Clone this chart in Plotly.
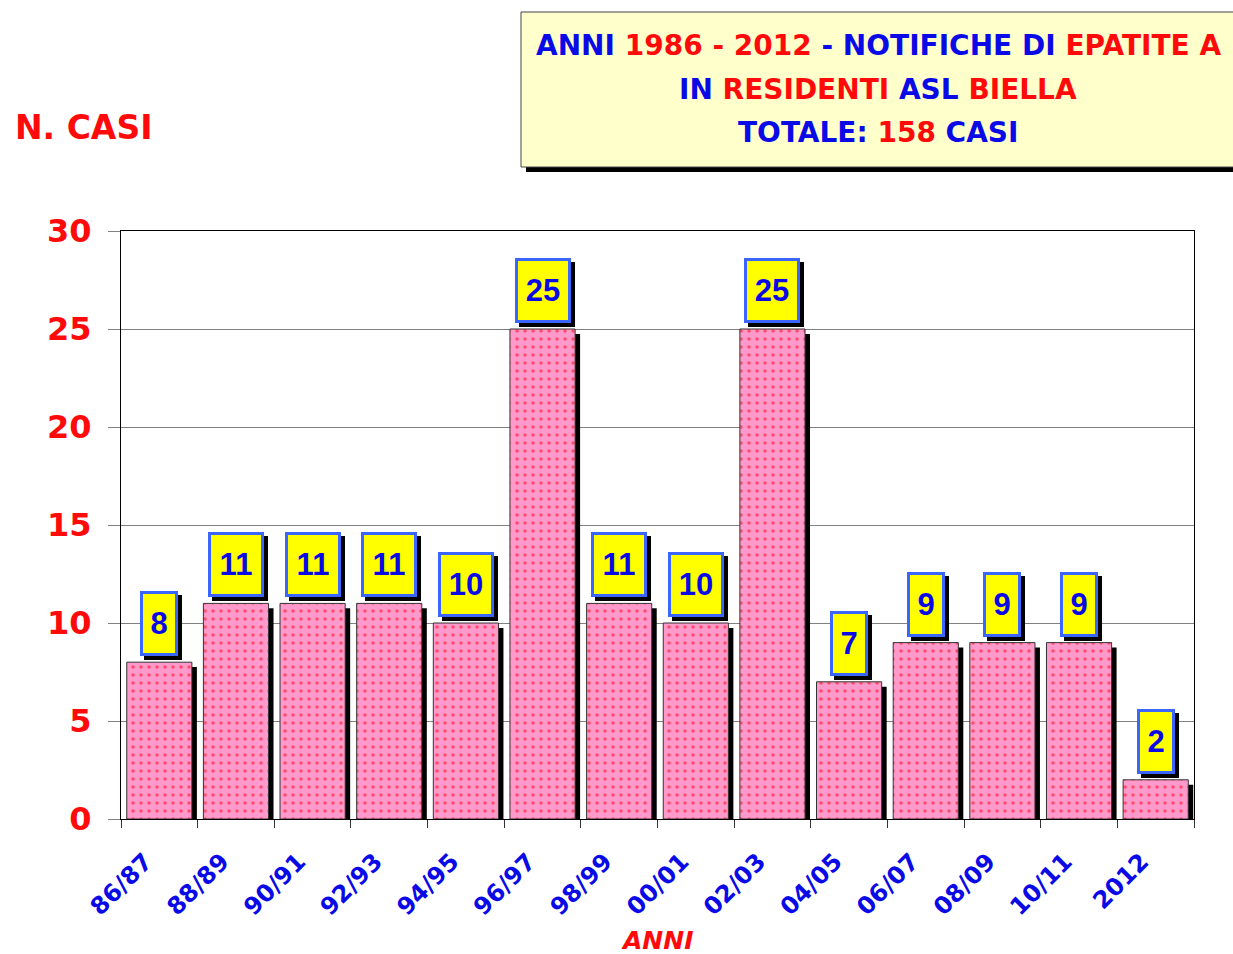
import plotly.graph_objects as go

categories = ["86/87", "88/89", "90/91", "92/93", "94/95", "96/97", "98/99",
              "00/01", "02/03", "04/05", "06/07", "08/09", "10/11", "2012"]
cases = [8, 11, 11, 11, 10, 25, 11, 10, 25, 7, 9, 9, 9, 2]
y_ticks = [0, 5, 10, 15, 20, 25, 30]

BLUE = "#0A0AE6"
RED = "#FF0A0A"
FONT = "DejaVu Sans"

# body margin is removed in post_script so page pixels == figure pixels
W, H = 1233, 954
# plot area in page pixels: x 121..1194, y 231..819
L, T = 121, 231
R = W - 1194
B = H - 819
pw, ph = W - L - R, H - T - B


def px_x(p):
    return (p - L) / pw


def px_y(p):
    return (H - B - p) / ph


fig = go.Figure()

# shadow bars
fig.add_trace(go.Bar(
    x=categories, y=cases, base=-0.25, width=0.85, offset=-0.36,
    marker=dict(color="black", line=dict(width=0)),
    hoverinfo="skip", showlegend=False,
))
# main bars
fig.add_trace(go.Bar(
    x=categories, y=cases, width=0.85, offset=-0.425,
    marker=dict(color="#FF99CC",
                line=dict(color="#333333", width=1),
                pattern=dict(shape=".", fgcolor="#FF0000", bgcolor="#FF99CC",
                             size=8, solidity=0.15)),
    showlegend=False,
))

annotations = []
for i, v in enumerate(cases):
    bw = 18 * len(str(v))
    # shadow of label box
    annotations.append(dict(
        x=i, y=v, xref="x", yref="y", text=" ", showarrow=False,
        yanchor="bottom", xanchor="center", xshift=4, yshift=2,
        font=dict(family="Liberation Sans", size=31, color="black"),
        bgcolor="black", bordercolor="black", borderwidth=3, borderpad=7,
        width=bw, height=45,
    ))
    annotations.append(dict(
        x=i, y=v, xref="x", yref="y", text=f"<b>{v}</b>", showarrow=False,
        yanchor="bottom", xanchor="center", yshift=6,
        font=dict(family="Liberation Sans", size=31, color=BLUE),
        bgcolor="#FFFF00", bordercolor="#3A66FF", borderwidth=3, borderpad=7,
        width=bw, height=45,
    ))


def blue(s):
    return f"<span style='color:{BLUE}'>{s}</span>"


def red(s):
    return f"<span style='color:{RED}'>{s}</span>"


title_lines = [
    blue("ANNI ") + red("1986 - 2012") + blue(" - NOTIFICHE DI ") + red("EPATITE A"),
    blue("IN ") + red("RESIDENTI") + blue(" ASL ") + red("BIELLA"),
    blue("TOTALE: ") + red("158") + blue(" CASI"),
]
for line, yc in zip(title_lines, [45, 89, 133]):
    annotations.append(dict(
        x=px_x(878), y=px_y(yc), xref="paper", yref="paper", text=f"<b>{line}</b>",
        showarrow=False, xanchor="center", yanchor="middle",
        font=dict(family=FONT, size=28),
    ))

annotations.append(dict(
    x=px_x(13), y=px_y(127), xref="paper", yref="paper", text="<b>N. CASI</b>",
    showarrow=False, xanchor="left", yanchor="middle",
    font=dict(family=FONT, size=33, color=RED),
))
annotations.append(dict(
    x=px_x(657), y=px_y(941), xref="paper", yref="paper", text="<b><i>ANNI</i></b>",
    showarrow=False, xanchor="center", yanchor="middle",
    font=dict(family=FONT, size=25, color=RED),
))

shapes = [
    # title box shadow
    dict(type="rect", xref="paper", yref="paper",
         x0=px_x(526), x1=px_x(1260), y0=px_y(172), y1=px_y(17),
         fillcolor="black", line=dict(width=0), layer="above"),
    dict(type="rect", xref="paper", yref="paper",
         x0=px_x(521), x1=px_x(1255), y0=px_y(167), y1=px_y(12),
         fillcolor="#FFFFCC", line=dict(color="#444444", width=1), layer="above"),
]

fig.update_layout(
    width=W, height=H,
    margin=dict(l=L, r=R, t=T, b=B, autoexpand=False),
    paper_bgcolor="white", plot_bgcolor="white",
    barmode="overlay",
    annotations=annotations,
    shapes=shapes,
    xaxis=dict(
        type="category", range=[-0.5, len(categories) - 0.5],
        tickson="boundaries", ticks="outside", ticklen=8, tickcolor="#333333",
        showline=True, linecolor="black", linewidth=1, mirror=True,
        tickangle=-45, showgrid=False,
        ticklabelstandoff=18, ticklabelshift=-14,
        tickfont=dict(family=FONT, size=24, color=BLUE, weight="bold"),
    ),
    yaxis=dict(
        range=[0, 30], tickvals=y_ticks, ticks="outside", ticklen=12,
        tickcolor="#808080", ticklabelstandoff=10,
        showline=True, linecolor="black", linewidth=1, mirror=True,
        showgrid=True, gridcolor="#808080", gridwidth=1, zeroline=False,
        tickfont=dict(family=FONT, size=32, color=RED, weight="bold"),
    ),
)

fig.write_html(
    "out.html",
    config={"displayModeBar": False},
    post_script="document.body.style.margin='0';document.body.style.overflow='hidden';",
)
